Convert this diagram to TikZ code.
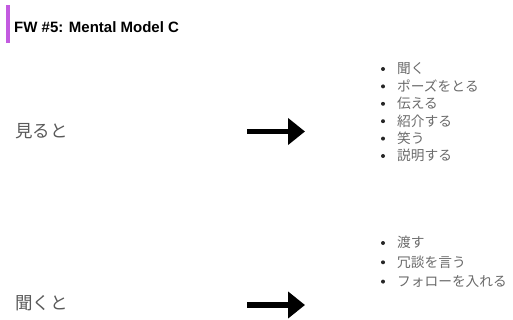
\documentclass[tikz,border=0pt]{standalone}
\usepackage{fontspec}
\setmainfont{Liberation Sans}
\newfontfamily\jafont{Noto Sans CJK JP}
\usetikzlibrary{arrows.meta}

\definecolor{fwpurple}{HTML}{C35BE0}
\definecolor{cuegray}{HTML}{595959}
\definecolor{itemgray}{HTML}{6A6A6A}

\begin{document}
\begin{tikzpicture}[x=1pt, y=-1pt,
    cue/.style={anchor=base west, inner sep=0pt, text=cuegray, font=\jafont\fontsize{17.5}{20}\selectfont},
    item/.style={anchor=base west, inner sep=0pt, text=itemgray, font=\jafont\fontsize{13.7}{16}\selectfont},
    dot/.style={circle, fill=black!85, inner sep=0pt, minimum size=4pt},
    bigarrow/.style={line width=5.5pt, -{Triangle[length=17pt, width=26pt]}}]
	\useasboundingbox (0,0) rectangle (513,320);

	% heading
	\fill[fwpurple] (6,5) rectangle (10,43);
	\node[anchor=base west, inner sep=0pt, font=\bfseries\fontsize{15}{18}\selectfont] (title) at (14,32.3) {FW \#5: Mental Model C};

	% first row
	\node[cue] (see) at (15,137.5) {見ると};
	\coordinate (see from) at (247,131.5);
	\coordinate (see to) at (305,131.5);
	\draw[bigarrow] (see from) -- (see to);
	\foreach \txt [count=\i from 0] in {聞く, ポーズをとる, 伝える, 紹介する, 笑う, 説明する} {
		\node[dot] (seedot\i) at (383,{69+17.4*\i}) {};
		\node[item] (seeitem\i) at (397,{73.9+17.4*\i}) {\txt};
	}

	% second row
	\node[cue] (hear) at (15,309.5) {聞くと};
	\coordinate (hear from) at (247,305);
	\coordinate (hear to) at (305,305);
	\draw[bigarrow] (hear from) -- (hear to);
	\foreach \txt [count=\i from 0] in {渡す, 冗談を言う, フォローを入れる} {
		\node[dot] (heardot\i) at (383,{243+19.3*\i}) {};
		\node[item] (hearitem\i) at (397,{247.9+19.3*\i}) {\txt};
	}
\end{tikzpicture}
\end{document}
